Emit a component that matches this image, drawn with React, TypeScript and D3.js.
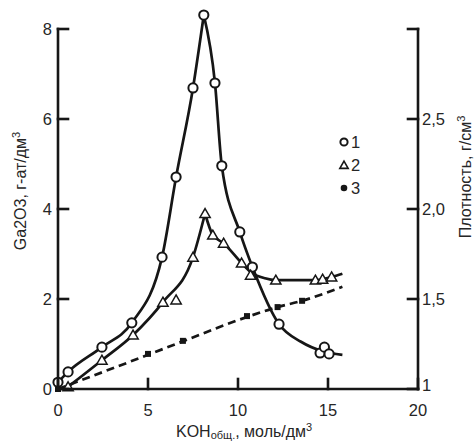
import React from "react";
import * as d3 from "d3";

// ---- data ----
const xTicks = [0, 5, 10, 15, 20];
const yTicks = [0, 2, 4, 6, 8];
const yTickLabels = ["0", "2", "4", "6", "8"];
const rTicks = [1, 1.5, 2, 2.5, 3];
const rTickLabels = ["1", "1,5", "2,0", "2,5", ""];

// series 1 (circles)
const s1X = [0, 0.56, 2.44, 4.1, 5.78, 6.56, 7.5, 8.1, 8.72, 9.1, 10.1, 10.8, 12.28, 14.56, 14.8, 15.06];
const s1Y = [0.15, 0.38, 0.93, 1.47, 2.93, 4.71, 6.69, 8.31, 6.8, 4.96, 3.49, 2.71, 1.44, 0.8, 0.93, 0.78];
const c1UpX = [0, 0.56, 2.44, 4.1, 5.78, 6.56, 7.5, 8.1];
const c1UpY = [0.15, 0.38, 0.93, 1.47, 2.93, 4.71, 6.69, 8.31];
const c1DnX = [8.1, 8.72, 9.1, 10.1, 10.8, 12.28, 13.5, 14.7, 15.8];
const c1DnY = [8.31, 6.8, 4.96, 3.49, 2.71, 1.44, 1.05, 0.84, 0.76];

// series 2 (triangles)
const s2X = [0.56, 2.44, 4.17, 5.83, 6.56, 7.5, 8.17, 8.6, 9.2, 10.2, 10.7, 12.1, 14.3, 14.7, 15.2];
const s2Y = [0.05, 0.64, 1.2, 1.93, 1.98, 2.93, 3.9, 3.42, 3.24, 2.8, 2.53, 2.42, 2.42, 2.44, 2.49];
const c2UpX = [0.56, 2.44, 4.17, 5.83, 7.5, 8.17];
const c2UpY = [0.05, 0.64, 1.2, 1.93, 2.93, 3.9];
const c2DnX = [8.17, 8.6, 9.2, 10.2, 10.7, 11.5, 12.1, 14.3, 15.2, 15.8];
const c2DnY = [3.9, 3.42, 3.24, 2.8, 2.6, 2.46, 2.42, 2.42, 2.49, 2.56];

// series 3 (filled squares, dashed)
const s3X = [0, 5.0, 6.94, 10.5, 12.2, 13.56];
const s3Y = [0, 0.78, 1.07, 1.62, 1.82, 1.96];
const c3X = [0, 5.0, 6.94, 10.5, 12.2, 13.56, 15.8];
const c3Y = [0, 0.76, 1.06, 1.6, 1.82, 1.96, 2.27];

const legendLabels = ["1", "2", "3"];

const INK = "#161616";
const TXT = "#262626";
const FONT = "'Liberation Sans', Arial, sans-serif";

export default function App() {
  const W = 474, H = 445;
  const x = d3.scaleLinear().domain([0, 20]).range([58, 418]);
  const y = d3.scaleLinear().domain([0, 8]).range([389, 29]);
  const yR = d3.scaleLinear().domain([1, 3]).range([389, 29]);

  const line = d3
    .line<[number, number]>()
    .x((d) => x(d[0]))
    .y((d) => y(d[1]))
    .curve(d3.curveMonotoneX);
  const zip = (a: number[], b: number[]) => a.map((v, i) => [v, b[i]] as [number, number]);

  const tri = d3.symbol().type(d3.symbolTriangle).size(46)();
  const lineW = 2.7;
  const tickLen = 10;

  return (
    <svg
      width={W}
      height={H}
      style={{ position: "absolute", left: 0, top: 0, background: "#fff" }}
      fontFamily={FONT}
    >
      {/* curves */}
      <g fill="none" stroke={INK} strokeWidth={lineW} strokeLinejoin="round">
        <path d={line(zip(c1UpX, c1UpY)) || ""} />
        <path d={line(zip(c1DnX, c1DnY)) || ""} />
        <path d={line(zip(c2UpX, c2UpY)) || ""} />
        <path d={line(zip(c2DnX, c2DnY)) || ""} />
        <path d={line(zip(c3X, c3Y)) || ""} strokeDasharray="8,5" />
      </g>

      {/* markers */}
      <g stroke={INK} strokeWidth={2} fill="#fff">
        {s1X.map((v, i) => (
          <circle key={"c" + i} cx={x(v)} cy={y(s1Y[i])} r={4.6} />
        ))}
        {s2X.map((v, i) => (
          <path key={"t" + i} d={tri || ""} transform={`translate(${x(v)},${y(s2Y[i]) + 1})`} strokeWidth={1.5} />
        ))}
      </g>
      <g fill={INK}>
        {s3X.map((v, i) => (
          <rect key={"s" + i} x={x(v) - 3} y={y(s3Y[i]) - 3} width={6} height={6} />
        ))}
      </g>

      {/* axes */}
      <g stroke={INK} strokeWidth={2.6} fill="none" strokeLinecap="square">
        <line x1={x(0)} y1={y(0)} x2={x(0)} y2={y(8)} />
        <line x1={x(0)} y1={y(0)} x2={x(20)} y2={y(0)} />
        <line x1={x(20)} y1={yR(1)} x2={x(20)} y2={yR(3)} />
        {yTicks.map((t) => (
          <line key={"yt" + t} x1={x(0)} x2={x(0) + tickLen} y1={y(t)} y2={y(t)} />
        ))}
        {xTicks.map((t) => (
          <line key={"xt" + t} x1={x(t)} x2={x(t)} y1={y(0)} y2={y(0) - tickLen} />
        ))}
        {rTicks.map((t) => (
          <line key={"rt" + t} x1={x(20)} x2={x(20) - tickLen} y1={yR(t)} y2={yR(t)} />
        ))}
      </g>

      {/* tick labels */}
      <g fill={TXT} fontSize={16.5}>
        {yTicks.map((t, i) => (
          <text key={"yl" + t} x={x(0) - 6} y={y(t)} dy="0.36em" textAnchor="end">
            {yTickLabels[i]}
          </text>
        ))}
        {xTicks.map((t) => (
          <text key={"xl" + t} x={x(t)} y={y(0) + 27} textAnchor="middle">
            {t}
          </text>
        ))}
        {rTicks.map((t, i) => (
          <text key={"rl" + t} x={x(20) + 4} y={yR(t)} dy={t === 1 ? "0.1em" : "0.36em"} textAnchor="start">
            {rTickLabels[i]}
          </text>
        ))}
      </g>

      {/* axis titles */}
      <text
        transform={`translate(26,191) rotate(-90)`}
        textAnchor="middle"
        fontSize={16}
        fill={TXT}
      >
        Ga2O3, г-ат/дм<tspan dy="-6" fontSize={11}>3</tspan>
      </text>
      <text
        transform={`translate(471,177) rotate(-90)`}
        textAnchor="middle"
        fontSize={16}
        fill={TXT}
      >
        Плотность, г/см<tspan dy="-6" fontSize={11}>3</tspan>
      </text>
      <text x={176} y={437} fontSize={16} fill={TXT}>
        KOH<tspan fontSize={11} dy="2">общ.</tspan>
        <tspan dy="-2">, моль/дм</tspan>
        <tspan fontSize={11} dy="-6">3</tspan>
      </text>

      {/* legend */}
      <g>
        <circle cx={344} cy={142} r={3.6} fill="#fff" stroke={INK} strokeWidth={2} />
        <path d={d3.symbol().type(d3.symbolTriangle).size(30)() || ""} transform="translate(344,166)" fill="#fff" stroke={INK} strokeWidth={1.6} />
        <circle cx={344} cy={188} r={3.3} fill={INK} />
        {legendLabels.map((l, i) => (
          <text key={"lg" + l} x={351} y={142 + i * 23} dy="0.36em" fontSize={16.5} fill={TXT}>
            {l}
          </text>
        ))}
      </g>
    </svg>
  );
}
